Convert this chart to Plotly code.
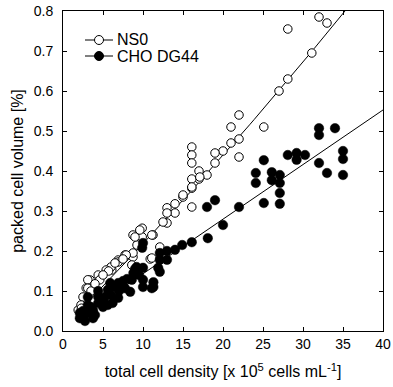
import plotly.graph_objects as go
import numpy as np

# NS0 (open circles)
ns0_x = [32, 33, 28.1, 31.1, 28.1, 27, 22, 21, 25.1, 22, 21, 20, 19, 19, 22, 18, 17, 17,
         16.1, 16.1, 16.1, 16.1, 16.1, 16.1, 15, 14, 13, 14, 13, 13, 11.25, 9.9, 8.75, 9.9,
         9.25, 10.9, 12.1, 9.6, 11.1, 12.5, 15, 16.1, 17.1, 11.1, 7.75, 6.9, 6.1, 8.75, 8.6,
         9.0, 8.75, 7.9, 6.9, 6.0, 5.4, 4.4, 3.4, 2.9, 2.5, 1.9, 2.25, 3.1, 3.1, 4.6, 5.7,
         6.5, 7.5, 2.3, 3.5, 4.0, 5.0]
ns0_y = [0.785, 0.77, 0.755, 0.695, 0.63, 0.60, 0.54, 0.51, 0.51, 0.48, 0.47, 0.45, 0.445, 0.42, 0.435, 0.39, 0.40, 0.38,
         0.46, 0.44, 0.42, 0.38, 0.357, 0.31, 0.335, 0.318, 0.308, 0.295, 0.295, 0.27, 0.24, 0.257, 0.24, 0.235,
         0.215, 0.18, 0.21, 0.2525, 0.24, 0.2725, 0.34, 0.36, 0.385, 0.1825, 0.19, 0.1775, 0.1525, 0.185, 0.165,
         0.235, 0.195, 0.19, 0.1725, 0.16, 0.1525, 0.14, 0.1275, 0.1075, 0.085, 0.0525, 0.065, 0.128, 0.107, 0.128, 0.15,
         0.17, 0.18, 0.057, 0.10, 0.118, 0.14]

# CHO DG44 (filled circles)
cho_x = [32, 32, 34, 35, 35, 32, 33, 35, 28.1, 29.2, 30.25, 29.2, 25.1, 24.1, 24.1, 26.1, 26.1, 27.1,
         27.1, 27.1, 27.1, 25.1, 22, 19, 18, 20, 18.1, 16.1, 14.9, 14, 13, 12.1, 13, 12.1, 10, 9.9,
         11.9, 12.1, 11.3, 11.1, 9.2, 10, 8.8, 8.6, 10, 10, 11.3, 7.75, 8.4, 6.9, 6.9, 5.9, 5.6, 5.6,
         4.4, 4.4, 4.4, 3.1, 3.1, 3.1, 2.5, 2.1, 2.75, 3.75, 3.75, 2.1, 5.25, 7.0, 6.0, 4.9, 3.5, 2.5,
         8.0, 9.0, 9.5, 7.5, 6.5, 5.0, 6.2, 4.0]
cho_y = [0.507, 0.49, 0.507, 0.45, 0.43, 0.42, 0.395, 0.39, 0.44, 0.445, 0.44, 0.428, 0.427, 0.395, 0.37, 0.397, 0.377, 0.39,
         0.37, 0.345, 0.318, 0.32, 0.31, 0.327, 0.31, 0.265, 0.232, 0.222, 0.215, 0.203, 0.20, 0.195, 0.178, 0.178, 0.22, 0.208,
         0.158, 0.148, 0.122, 0.107, 0.16, 0.158, 0.145, 0.128, 0.128, 0.11, 0.11, 0.107, 0.098, 0.083, 0.12, 0.12, 0.103, 0.065,
         0.10, 0.085, 0.07, 0.085, 0.065, 0.045, 0.035, 0.032, 0.025, 0.032, 0.052, 0.045, 0.085, 0.10, 0.09, 0.078, 0.06, 0.05,
         0.13, 0.155, 0.14, 0.125, 0.11, 0.06, 0.07, 0.04]

# fit coefficients (y = a + b x + c x^2) and fitted x-range
ns0_fit = [0.0087, 0.02033, 0.00006]
ns0_fit_range = [2.0, 36.0]
cho_fit = [0.0066, 0.01365, 0.0]
cho_fit_range = [2.0, 40.0]

x_ticks = [0, 5, 10, 15, 20, 25, 30, 35, 40]
y_ticks = [0.0, 0.1, 0.2, 0.3, 0.4, 0.5, 0.6, 0.7, 0.8]

series_names = ["NS0", "CHO DG44"]
series_fill = ["white", "black"]


def fit_line(coef, rng):
    xs = np.linspace(rng[0], rng[1], 60)
    return xs, coef[0] + coef[1] * xs + coef[2] * xs ** 2


fig = go.Figure()
fx, fy = fit_line(ns0_fit, ns0_fit_range)
fig.add_trace(go.Scatter(x=fx, y=fy, mode="lines", line=dict(color="black", width=1), showlegend=False))
fx, fy = fit_line(cho_fit, cho_fit_range)
fig.add_trace(go.Scatter(x=fx, y=fy, mode="lines", line=dict(color="black", width=1), showlegend=False))

fig.add_trace(go.Scatter(x=ns0_x, y=ns0_y, mode="markers", name=series_names[0], showlegend=False,
                         marker=dict(symbol="circle", size=8.5, color="white", line=dict(color="black", width=1))))
fig.add_trace(go.Scatter(x=cho_x, y=cho_y, mode="markers", name=series_names[1], showlegend=False,
                         marker=dict(symbol="circle", size=9.5, color="black", line=dict(color="black", width=0.5))))

font = "Liberation Sans, Arial, sans-serif"

# legend drawn in paper coordinates (pixel layout of the plot area: 320 x 320)
L, T, W, H = 63, 11, 320, 320


def px(x):
    return (x - L) / W


def py(y):
    return 1 - (y - T) / H


legend_rows = [40, 56]
for name, fill, yrow in zip(series_names, series_fill, legend_rows):
    fig.add_shape(type="line", xref="paper", yref="paper", x0=px(85), x1=px(113), y0=py(yrow), y1=py(yrow),
                  line=dict(color="black", width=1))
    r = 4.5
    fig.add_shape(type="circle", xref="paper", yref="paper", x0=px(99 - r), x1=px(99 + r),
                  y0=py(yrow + r), y1=py(yrow - r), fillcolor=fill, line=dict(color="black", width=1))
    fig.add_annotation(xref="paper", yref="paper", x=px(115), y=py(yrow), xanchor="left", yanchor="middle",
                       text=name, showarrow=False, font=dict(family=font, size=16, color="black"))

axis_common = dict(showline=True, linecolor="black", linewidth=1, mirror="ticks",
                   ticks="inside", ticklen=4, tickcolor="black", showgrid=False, zeroline=False,
                   automargin=False, tickfont=dict(family=font, size=14, color="black"))

fig.update_layout(
    width=393, height=387,
    margin=dict(l=63, r=10, t=11, b=56),
    paper_bgcolor="white", plot_bgcolor="white",
    font=dict(family=font, size=14, color="black"),
    showlegend=False,
)
fig.update_xaxes(range=[0, 40], tickvals=x_ticks, ticktext=[str(v) for v in x_ticks],
                 title=dict(text="total cell density [x 10<sup>5</sup> cells mL<sup>-1</sup>]",
                            font=dict(family=font, size=16)),
                 **axis_common)
fig.update_yaxes(range=[0, 0.8], tickvals=y_ticks, ticktext=[f"{v:.1f}" for v in y_ticks],
                 ticklabelstandoff=6,
                 title=dict(text="packed cell volume [%]", font=dict(family=font, size=16), standoff=6),
                 **axis_common)

fig.write_html("out.html")
